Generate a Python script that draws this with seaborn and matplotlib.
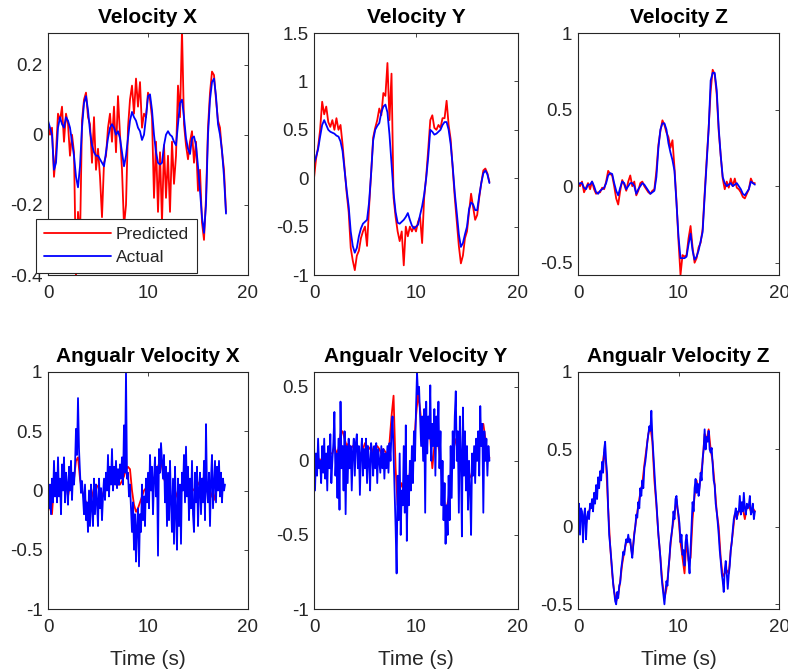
import numpy as np
import pandas as pd
import matplotlib
matplotlib.use("Agg")
import matplotlib.pyplot as plt
import seaborn as sns
from matplotlib.ticker import FuncFormatter

# ---------------- data ----------------
DT_VEL = 0.2      # sampling step of the velocity traces (s)
DT_ANG = 0.1      # sampling step of the noisy angular "actual" traces (s)
DT_ANG_PRED = 0.2 # sampling step of the angular "predicted" traces (s)

titles = ["Velocity X", "Velocity Y", "Velocity Z",
          "Angualr Velocity X", "Angualr Velocity Y", "Angualr Velocity Z"]
legend_labels = ["Predicted", "Actual"]
x_label = "Time (s)"

vx_actual = [0.04, 0.02, 0.0, -0.1, -0.08, 0.02, 0.05, 0.03, 0.02, 0.05,
             0.04, 0.02, -0.02, -0.06, -0.12, -0.15, -0.09, 0.02, 0.09, 0.11,
             0.07, 0.01, -0.03, -0.05, -0.06, -0.06, -0.07, -0.08, -0.09, -0.05,
             -0.01, 0.02, 0.03, 0.02, 0.0, 0.01, -0.01, -0.05, -0.09, -0.06,
             -0.01, 0.04, 0.065, 0.05, 0.04, 0.02, 0.01, -0.015, 0.0, 0.05,
             0.11, 0.115, 0.07, 0.0, -0.05, -0.08, -0.085, -0.08, -0.03, 0.0,
             0.01, 0.0, -0.005, -0.02, -0.03, 0.03, 0.09, 0.1, 0.05, -0.01,
             -0.04, -0.055, -0.01, -0.005, -0.03, -0.09, -0.16, -0.235, -0.28, -0.2,
             0.0, 0.1, 0.15, 0.16, 0.11, 0.03, 0.0, -0.045, -0.12, -0.225]
vx_pred = [0.03, 0.0, 0.02, -0.12, -0.05, 0.06, 0.04, 0.08, -0.02, 0.06,
           0.03, -0.06, 0.0, -0.05, -0.4, -0.22, -0.3, 0.04, 0.1, 0.12,
           0.05, 0.03, -0.08, 0.05, -0.1, -0.04, -0.12, -0.235, -0.08, -0.06,
           0.02, 0.06, -0.02, 0.08, -0.05, 0.11, 0.0, -0.1, -0.26, -0.2,
           0.02, 0.1, 0.14, 0.06, 0.16, 0.08, 0.15, 0.02, 0.06, 0.05,
           0.12, 0.1, 0.05, -0.18, -0.02, -0.22, -0.05, -0.25, -0.03, -0.18,
           -0.06, -0.22, -0.02, -0.14, -0.06, 0.14, 0.05, 0.3, 0.03, -0.03,
           -0.07, -0.02, 0.01, -0.08, -0.02, -0.16, -0.1, -0.25, -0.3, -0.18,
           0.02, 0.12, 0.18, 0.17, 0.1, 0.04, 0.02, -0.05, -0.1, -0.22]

vy_actual = [0.15, 0.22, 0.3, 0.43, 0.55, 0.6, 0.55, 0.5, 0.48, 0.47,
             0.46, 0.44, 0.43, 0.38, 0.28, 0.08, -0.12, -0.29, -0.55, -0.7,
             -0.77, -0.72, -0.6, -0.52, -0.47, -0.45, -0.43, -0.25, 0.05, 0.39,
             0.5, 0.54, 0.57, 0.68, 0.74, 0.76, 0.68, 0.45, 0.15, -0.15,
             -0.35, -0.46, -0.47, -0.45, -0.43, -0.4, -0.36, -0.43, -0.49, -0.52,
             -0.5, -0.48, -0.38, -0.29, -0.17, 0.0, 0.22, 0.5, 0.48, 0.45,
             0.46, 0.48, 0.5, 0.55, 0.58, 0.58, 0.5, 0.35, 0.12, -0.15,
             -0.36, -0.58, -0.71, -0.67, -0.58, -0.5, -0.32, -0.25, -0.27, -0.33,
             -0.33, -0.18, -0.05, 0.05, 0.08, 0.04, -0.05]
vy_pred = [0.0, 0.2, 0.32, 0.5, 0.79, 0.66, 0.74, 0.58, 0.53, 0.6,
           0.5, 0.62, 0.5, 0.55, 0.35, 0.1, -0.15, -0.35, -0.72, -0.85,
           -0.95, -0.8, -0.75, -0.62, -0.55, -0.5, -0.7, -0.3, 0.05, 0.42,
           0.52, 0.6, 0.72, 0.65, 0.88, 0.85, 1.19, 0.6, 1.08, -0.2,
           -0.4, -0.55, -0.65, -0.55, -0.9, -0.5, -0.6, -0.5, -0.55, -0.5,
           -0.55, -0.45, -0.4, -0.67, -0.2, 0.02, 0.3, 0.6, 0.65, 0.52,
           0.5, 0.55, 0.52, 0.62, 0.62, 0.8, 0.55, 0.4, 0.1, -0.2,
           -0.45, -0.7, -0.88, -0.8, -0.62, -0.55, -0.35, -0.16, -0.3, -0.43,
           -0.38, -0.2, -0.05, 0.08, 0.1, 0.05, -0.04]

vz_actual = [0.01, 0.02, 0.02, -0.01, -0.02, 0.01, 0.01, 0.03, 0.0, -0.04,
             -0.05, -0.03, -0.02, -0.01, 0.02, 0.07, 0.085, 0.08, 0.02, -0.03,
             -0.06, -0.01, 0.03, 0.02, -0.02, 0.0, 0.02, 0.02, 0.0, -0.05,
             -0.02, 0.0, 0.02, 0.01, -0.01, -0.03, -0.05, -0.04, -0.03, 0.06,
             0.25, 0.37, 0.41, 0.41, 0.37, 0.28, 0.22, 0.17, 0.1, -0.11,
             -0.33, -0.47, -0.47, -0.47, -0.46, -0.38, -0.31, -0.42, -0.48, -0.46,
             -0.42, -0.36, -0.3, -0.07, 0.15, 0.37, 0.69, 0.74, 0.74, 0.63,
             0.38, 0.2, 0.06, 0.02, 0.0, 0.01, 0.02, 0.0, 0.01, 0.02,
             0.0, -0.02, -0.05, -0.06, -0.04, -0.02, 0.03, 0.02, 0.01]
vz_pred = [0.02, 0.0, 0.03, -0.04, -0.01, 0.02, -0.02, 0.03, -0.02, -0.05,
           -0.04, -0.04, -0.01, -0.02, 0.03, 0.1, 0.08, 0.07, 0.0, -0.08,
           -0.12, -0.03, 0.04, 0.01, -0.03, 0.03, 0.07, 0.0, 0.03, -0.06,
           -0.03, 0.02, 0.03, 0.0, -0.02, -0.04, -0.05, -0.03, -0.02, 0.1,
           0.27, 0.36, 0.43, 0.4, 0.35, 0.32, 0.25, 0.3, 0.12, -0.1,
           -0.36, -0.58, -0.45, -0.46, -0.45, -0.34, -0.26, -0.4, -0.5, -0.47,
           -0.4, -0.37, -0.28, -0.05, 0.17, 0.38, 0.62, 0.76, 0.73, 0.6,
           0.36, 0.2, 0.05, -0.02, 0.03, -0.01, 0.05, 0.0, 0.05, -0.01,
           -0.02, -0.04, -0.07, -0.08, -0.05, -0.02, 0.05, 0.02, 0.02]

ax_actual = [0.0, -0.15, 0.05, -0.2, 0.1, -0.1, 0.25, -0.05, 0.15, -0.1,
             0.28, -0.05, 0.1, -0.2, 0.22, 0.0, 0.28, -0.1, 0.15, 0.05,
             -0.12, 0.2, 0.0, 0.25, -0.08, 0.15, 0.05, 0.2, 0.52, 0.3,
             0.78, 0.35, 0.15, -0.02, 0.08, -0.05, -0.2, 0.05, -0.25, -0.1,
             -0.35, 0.0, -0.3, 0.05, -0.15, -0.3, 0.1, -0.2, 0.05, -0.1,
             -0.3, 0.1, -0.15, 0.02, -0.25, -0.05, 0.1, -0.08, 0.15, 0.0,
             0.3, -0.05, 0.2, 0.05, 0.35, 0.0, 0.2, 0.05, 0.25, 0.02,
             0.18, 0.05, 0.22, 0.1, 0.28, 0.05, 0.55, 0.15, 1.0, 0.1,
             0.15, -0.05, 0.05, -0.15, -0.35, -0.1, -0.5, -0.2, -0.6, -0.3,
             -0.15, -0.64, -0.2, -0.35, 0.05, -0.25, -0.05, -0.3, 0.1, -0.1,
             0.15, -0.15, 0.3, 0.0, 0.2, -0.2, 0.1, 0.28, -0.05, 0.2,
             -0.55, 0.35, 0.15, 0.4, 0.25, 0.1, 0.3, -0.1, 0.2, -0.3,
             0.15, -0.25, 0.25, -0.1, -0.35, 0.1, -0.45, 0.2, -0.2, -0.5,
             0.1, -0.3, 0.05, -0.45, 0.15, 0.0, 0.3, -0.1, 0.37, -0.05,
             0.2, -0.25, 0.1, -0.15, 0.25, -0.2, -0.35, 0.15, -0.1, 0.2,
             -0.3, 0.0, 0.15, -0.2, 0.1, -0.1, 0.25, -0.25, 0.56, 0.0,
             -0.1, 0.15, -0.3, 0.1, 0.3, -0.15, 0.05, 0.25, -0.1, 0.2,
             0.0, 0.25, -0.05, 0.15, -0.1, 0.1, 0.0, 0.05]
ax_pred = [0.0, -0.15, -0.2, 0.05, 0.05, 0.0, 0.05, 0.08, 0.05, 0.08,
           -0.05, 0.05, 0.08, 0.1, 0.25, 0.28, 0.1, 0.0, -0.05, -0.1,
           -0.15, -0.12, -0.05, 0.02, 0.05, 0.03, -0.02, -0.05, 0.0, 0.05,
           0.08, 0.08, 0.1, 0.08, 0.05, 0.05, 0.05, 0.08, 0.12, 0.18,
           0.2, 0.18, 0.0, -0.12, -0.18, -0.15, -0.1, -0.05, 0.0, 0.02,
           0.05, 0.08, 0.1, 0.1, 0.15, 0.2, 0.25, 0.2, 0.1, 0.05,
           0.0, -0.05, -0.05, -0.1, -0.05, 0.0, 0.02, 0.05, 0.1, 0.12,
           0.1, 0.05, 0.02, 0.0, 0.02, 0.05, 0.08, 0.1, 0.1, 0.08,
           0.05, 0.0, -0.05, -0.08, 0.0, 0.05, 0.05, 0.03, 0.02]

ay_actual = [0.12, -0.2, 0.05, -0.1, 0.15, -0.05, 0.0, -0.15, 0.1, -0.08,
             0.15, -0.12, 0.05, -0.2, 0.1, -0.05, 0.18, -0.15, 0.0, 0.12,
             0.33, -0.1, 0.05, -0.25, 0.15, -0.33, 0.4, -0.05, 0.1, -0.2,
             0.2, -0.36, 0.1, -0.15, 0.15, -0.05, 0.1, -0.2, 0.05, 0.15,
             -0.1, 0.12, 0.18, -0.05, 0.1, -0.23, 0.05, 0.15, -0.1, 0.08,
             -0.05, 0.15, -0.15, 0.1, 0.0, -0.2, 0.12, 0.05, -0.1, 0.1,
             -0.05, 0.12, -0.15, 0.08, 0.0, -0.08, 0.1, -0.05, 0.08, -0.12,
             0.05, -0.05, 0.1, -0.08, 0.12, 0.0, 0.2, 0.3, 0.05, -0.2,
             -0.45, -0.76, -0.1, -0.4, 0.05, -0.5, -0.2, -0.3, 0.1, -0.35,
             0.24, -0.54, -0.1, -0.3, 0.0, -0.2, 0.1, -0.15, 0.2, 0.0,
             0.35, 0.6, 0.45, 0.5, 0.3, 0.1, 0.3, 0.0, 0.35, -0.35,
             0.4, 0.05, 0.3, 0.15, 0.51, 0.0, 0.25, 0.1, 0.35, -0.1,
             0.3, 0.1, 0.4, -0.05, 0.2, -0.3, 0.0, -0.4, -0.15, -0.56,
             -0.3, -0.5, -0.1, -0.4, 0.1, -0.25, 0.2, -0.05, 0.3, 0.47,
             0.0, 0.2, -0.35, 0.3, 0.05, -0.51, 0.36, -0.1, 0.2, -0.2,
             0.1, -0.33, 0.0, -0.2, -0.5, 0.05, -0.1, 0.1, -0.15, 0.15,
             0.0, 0.2, -0.1, 0.37, 0.1, 0.25, -0.35, 0.2, 0.0, 0.15,
             -0.1, 0.1, 0.0]
ay_pred = [0.05, 0.0, 0.02, 0.0, 0.02, 0.0, 0.03, 0.0, 0.05, 0.05,
           0.1, 0.05, 0.08, 0.18, 0.2, 0.15, 0.1, 0.12, 0.08, 0.1,
           0.1, 0.08, 0.05, 0.05, 0.08, 0.12, 0.1, 0.08, 0.1, 0.05,
           0.08, 0.1, 0.08, 0.05, 0.08, 0.06, 0.05, 0.12, 0.3, 0.44,
           -0.05, -0.3, -0.2, -0.15, -0.2, -0.1, -0.15, -0.08, 0.0, 0.1,
           0.3, 0.45, 0.35, 0.2, 0.1, 0.15, 0.2, 0.15, -0.05, 0.1,
           0.15, 0.1, 0.0, -0.15, -0.3, -0.32, -0.25, -0.1, 0.09, 0.15,
           0.1, 0.05, 0.0, -0.05, -0.08, -0.1, -0.12, -0.1, -0.05, 0.0,
           0.05, 0.1, 0.2, 0.25, 0.15, 0.05, 0.02]

az_actual = [0.0, 0.15, -0.05, 0.12, 0.1, -0.1, 0.08, 0.12, -0.08, 0.06,
             0.1, 0.05, 0.15, 0.12, 0.18, 0.1, 0.22, 0.15, 0.27, 0.18,
             0.32, 0.25, 0.36, 0.3, 0.42, 0.35, 0.5, 0.55, 0.42, 0.34,
             0.12, -0.05, -0.12, -0.2, -0.28, -0.37, -0.42, -0.48, -0.5, -0.42,
             -0.46, -0.38, -0.36, -0.27, -0.22, -0.16, -0.18, -0.12, -0.08, -0.1,
             -0.05, -0.1, -0.08, -0.15, -0.2, -0.12, -0.05, 0.0, 0.08, 0.06,
             0.16, 0.12, 0.25, 0.2, 0.3, 0.25, 0.38, 0.42, 0.48, 0.55,
             0.6, 0.65, 0.62, 0.75, 0.58, 0.47, 0.35, 0.25, 0.16, 0.05,
             -0.05, -0.12, -0.2, -0.31, -0.38, -0.44, -0.5, -0.42, -0.35, -0.38,
             -0.27, -0.2, -0.1, -0.05, 0.0, 0.1, 0.05, 0.18, 0.2, 0.12,
             0.08, 0.02, -0.1, -0.05, -0.18, -0.15, -0.25, -0.1, -0.05, -0.12,
             -0.22, -0.3, -0.15, 0.0, 0.16, 0.1, 0.25, 0.31, 0.22, 0.28,
             0.2, 0.25, 0.35, 0.3, 0.44, 0.5, 0.63, 0.5, 0.58, 0.55,
             0.62, 0.5, 0.48, 0.51, 0.4, 0.3, 0.27, 0.15, 0.1, 0.03,
             -0.05, -0.15, -0.22, -0.3, -0.35, -0.42, -0.28, -0.22, -0.3, -0.4,
             -0.31, -0.25, -0.15, -0.1, -0.02, 0.05, 0.08, 0.12, 0.05, 0.1,
             0.1, 0.2, 0.08, 0.16, 0.1, 0.22, 0.12, 0.08, 0.15, 0.12,
             0.14, 0.2, 0.08, 0.1, 0.15, 0.05, 0.1]
az_pred = [0.0, 0.08, 0.05, 0.04, 0.02, 0.08, 0.12, 0.15, 0.18, 0.22,
           0.28, 0.32, 0.38, 0.48, 0.4, 0.12, -0.12, -0.3, -0.42, -0.48,
           -0.44, -0.35, -0.24, -0.16, -0.1, -0.07, -0.1, -0.18, -0.04, 0.05,
           0.14, 0.22, 0.28, 0.4, 0.5, 0.6, 0.65, 0.55, 0.3, 0.14,
           -0.05, -0.2, -0.36, -0.46, -0.4, -0.28, -0.12, 0.0, 0.08, 0.18,
           0.06, -0.1, -0.2, -0.3, -0.08, -0.22, -0.2, 0.05, 0.2, 0.3,
           0.22, 0.32, 0.42, 0.6, 0.56, 0.63, 0.5, 0.42, 0.27, 0.1,
           0.0, -0.2, -0.32, -0.3, -0.28, -0.3, -0.15, -0.04, 0.08, 0.06,
           0.1, 0.1, 0.12, 0.05, 0.13, 0.14, 0.1, 0.12, 0.1]

y_limits = [(-0.4, 0.29), (-1.0, 1.5), (-0.58, 1.0),
            (-1.0, 1.0), (-1.0, 0.6), (-0.53, 1.0)]
y_ticks = [[-0.4, -0.2, 0, 0.2], [-1, -0.5, 0, 0.5, 1, 1.5], [-0.5, 0, 0.5, 1],
           [-1, -0.5, 0, 0.5, 1], [-1, -0.5, 0, 0.5], [-0.5, 0, 0.5, 1]]
x_ticks = [0, 10, 20]

# ---------------- styling ----------------
sns.set_style("white")
plt.rcParams["font.family"] = ["Liberation Sans", "DejaVu Sans"]
plt.rcParams["axes.unicode_minus"] = False

RED = "#ff0000"
BLUE = "#0000ff"
DARK = "#262626"

fig = plt.figure(figsize=(7.88, 6.69), dpi=100)

W, H = 788.0, 669.0
cols = [(48, 200), (314, 204), (578, 201)]   # left px, width px
rows = [(33, 275), (372, 609)]                # top px, bottom px

panels = [
    (vx_pred, DT_VEL, vx_actual, DT_VEL),
    (vy_pred, DT_VEL, vy_actual, DT_VEL),
    (vz_pred, DT_VEL, vz_actual, DT_VEL),
    (ax_pred, DT_ANG_PRED, ax_actual, DT_ANG),
    (ay_pred, DT_ANG_PRED, ay_actual, DT_ANG),
    (az_pred, DT_ANG_PRED, az_actual, DT_ANG),
]

fmt = FuncFormatter(lambda v, p: f"{v:g}")

for i, (pred, dtp, act, dta) in enumerate(panels):
    r, c = divmod(i, 3)
    left, width = cols[c]
    top, bottom = rows[r]
    axh = fig.add_axes([left / W, 1 - bottom / H, width / W, (bottom - top) / H])

    dfp = pd.DataFrame({"t": np.arange(len(pred)) * dtp, "v": pred})
    dfa = pd.DataFrame({"t": np.arange(len(act)) * dta, "v": act})
    sns.lineplot(data=dfp, x="t", y="v", ax=axh, color=RED, lw=1.3,
                 estimator=None, sort=False, label=legend_labels[0])
    sns.lineplot(data=dfa, x="t", y="v", ax=axh, color=BLUE, lw=1.3,
                 estimator=None, sort=False, label=legend_labels[1])

    axh.set_xlim(0, 20)
    axh.set_ylim(*y_limits[i])
    axh.set_xticks(x_ticks)
    axh.set_yticks(y_ticks[i])
    axh.xaxis.set_major_formatter(fmt)
    axh.yaxis.set_major_formatter(fmt)
    axh.set_ylabel("")
    axh.set_xlabel(x_label if r == 1 else "", fontsize=15, color=DARK, labelpad=10)
    axh.set_title(titles[i], fontsize=15, fontweight="bold", color="black", pad=7)

    for s in axh.spines.values():
        s.set_visible(True)
        s.set_color(DARK)
        s.set_linewidth(0.8)
    axh.tick_params(axis="both", direction="in", top=True, right=True,
                    length=3, width=0.6, colors=DARK, labelsize=13.5)
    axh.tick_params(axis="x", pad=7)
    axh.tick_params(axis="y", pad=4)

    if i == 0:
        leg = axh.legend(loc="lower left", bbox_to_anchor=(-0.06, 0.008),
                         borderaxespad=0, fontsize=12.5, frameon=True,
                         fancybox=False, framealpha=1, edgecolor=DARK,
                         handlelength=3.85, handletextpad=0.3, borderpad=0.45,
                         labelspacing=0.45)
        leg.get_frame().set_linewidth(0.8)
        for txt in leg.get_texts():
            txt.set_color(DARK)
    else:
        lg = axh.get_legend()
        if lg is not None:
            lg.remove()

fig.savefig("out.png", dpi=100)
